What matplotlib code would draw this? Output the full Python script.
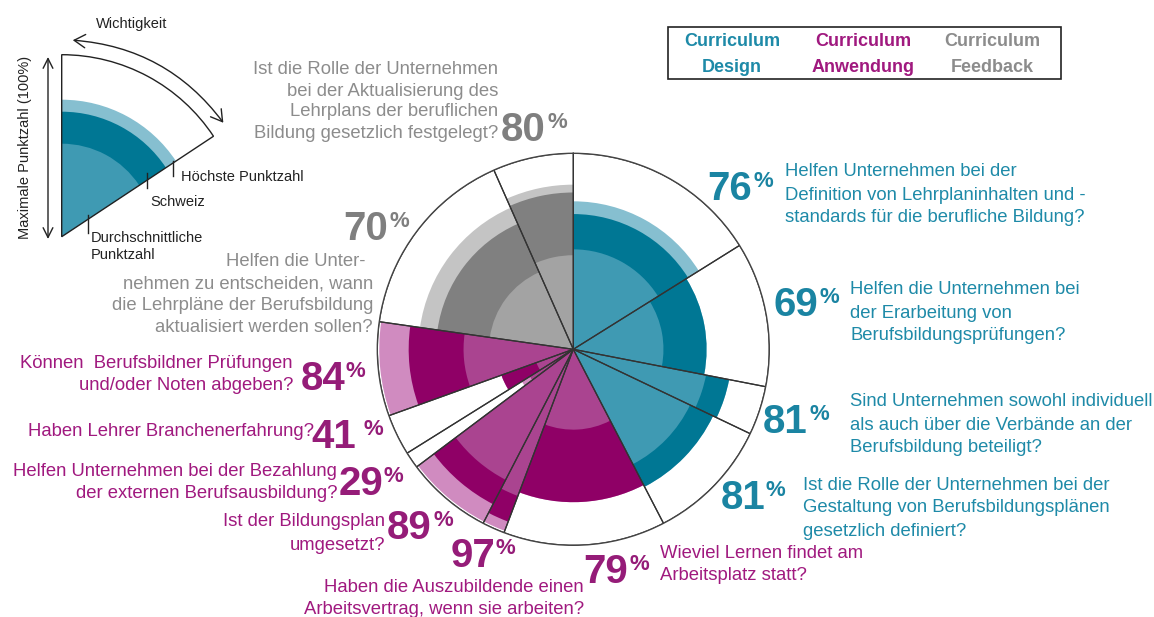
import matplotlib
matplotlib.use("Agg")
import matplotlib.pyplot as plt
import numpy as np
from matplotlib.patches import Wedge, Rectangle, FancyArrowPatch

plt.rcParams['font.family'] = ['Liberation Sans', 'DejaVu Sans']

# sector borders, degrees clockwise from 12 o'clock (sector width = Wichtigkeit)
edges = [0, 58, 101, 115.5, 152.6, 200.7, 207.4, 233.1, 238, 250.2, 278.1, 336.1, 360]
group = ["design"] * 4 + ["anwendung"] * 6 + ["feedback"] * 2
# scores as share of the maximum (radius)
avg_score = [0.51, 0.46, 0.69, 0.66, 0.41, 0.80, 0.75, 0.26, 0.20, 0.56, 0.43, 0.48]
swiss_score = [0.69, 0.68, 0.81, 0.79, 0.78, 0.94, 0.89, 0.26, 0.39, 0.84, 0.70, 0.80]
top_score = [0.755, 0.68, 0.81, 0.79, 0.78, 0.99, 0.99, 0.31, 0.39, 0.99, 0.79, 0.84]
pct = ["76", "69", "81", "81", "79", "97", "89", "29", "41", "84", "70", "80"]
questions = [
    "Helfen Unternehmen bei der\nDefinition von Lehrplaninhalten und -\nstandards für die berufliche Bildung?",
    "Helfen die Unternehmen bei\nder Erarbeitung von\nBerufsbildungsprüfungen?",
    "Sind Unternehmen sowohl individuell\nals auch über die Verbände an der\nBerufsbildung beteiligt?",
    "Ist die Rolle der Unternehmen bei der\nGestaltung von Berufsbildungsplänen\ngesetzlich definiert?",
    "Wieviel Lernen findet am\nArbeitsplatz statt?",
    "Haben die Auszubildende einen\nArbeitsvertrag, wenn sie arbeiten?",
    "Ist der Bildungsplan\numgesetzt?",
    "Helfen Unternehmen bei der Bezahlung\nder externen Berufsausbildung?",
    "Haben Lehrer Branchenerfahrung?",
    "Können  Berufsbildner Prüfungen\nund/oder Noten abgeben?",
    "Helfen die Unter-\nnehmen zu entscheiden, wann\ndie Lehrpläne der Berufsbildung\naktualisiert werden sollen?",
    "Ist die Rolle der Unternehmen\nbei der Aktualisierung des\nLehrplans der beruflichen\nBildung gesetzlich festgelegt?",
]
legend_names = ["Curriculum\nDesign", "Curriculum\nAnwendung", "Curriculum\nFeedback"]

palette = {
    "design": dict(avg="#3F9AB3", ch="#007794", top="#86BFD0", text="#1E8AA8", num="#1A84A2"),
    "anwendung": dict(avg="#AA4490", ch="#8F0066", top="#D08BC0", text="#A0197F", num="#951C78"),
    "feedback": dict(avg="#A3A3A3", ch="#808080", top="#C4C4C4", text="#8C8C8C", num="#7F7F7F"),
}

# layout in pixels: number (right x, baseline), question (x, first line y, step, ha)
num_pos = [(752, 200), (818, 316), (808, 433), (765, 509), (628, 583), (495, 567),
           (432, 539), (383, 495), (356, 448), (345, 390), (388, 240), (546, 141)]
pct_gap = [1, 1, 1, 1, 1, 1, 1, 1, 8, 1, 1, 1]
text_pos = [(785, 172, 23, "left"), (850, 290, 23, "left"), (850, 402, 23, "left"),
            (803, 485, 23, "left"), (660, 553, 23, "left"), (584, 588, 21, "right"),
            (385, 521, 25, "right"), (337, 472, 22, "right"), (314, 432, 22, "right"),
            (293, 363, 22, "right"), (373, 262, 22, "right"), (498, 70, 21, "right")]

W, H = 1154, 617
fig = plt.figure(figsize=(W / 100, H / 100), dpi=100)
bg = fig.add_axes([0, 0, 1, 1])
bg.set_xlim(0, W)
bg.set_ylim(H, 0)
bg.axis("off")

# main rose
cx, cy, R = 573.3, 349.3, 196
pax = fig.add_axes([(cx - R) / W, (H - cy - R) / H, 2 * R / W, 2 * R / H], projection="polar")
pax.set_theta_zero_location("N")
pax.set_theta_direction(-1)
pax.set_ylim(0, 1)
pax.set_xticks([])
pax.set_yticks([])
pax.grid(False)
pax.spines["polar"].set_color("#444444")
pax.spines["polar"].set_linewidth(1)

lo = np.radians(edges[:-1])
wd = np.radians(np.diff(edges))
for key, vals in [("top", top_score), ("ch", swiss_score), ("avg", avg_score)]:
    pax.bar(lo, vals, width=wd, bottom=0, align="edge",
            color=[palette[g][key] for g in group], linewidth=0)
pax.bar(lo, np.ones(len(lo)), width=wd, bottom=0, align="edge",
        fill=False, edgecolor="#333333", linewidth=0.9)

# labels
for i, q in enumerate(questions):
    c = palette[group[i]]
    x, y0, step, ha = text_pos[i]
    lines = q.split("\n")
    for k, ln in enumerate(lines):
        if i == 10 and k == 0:
            bg.text(366, y0, ln, ha="right", va="center", color=c["text"], fontsize=13.3)
            continue
        bg.text(x, y0 + k * step, ln, ha=ha, va="center", color=c["text"], fontsize=13.3)
    nx, ny = num_pos[i]
    bg.text(nx, ny, pct[i], ha="right", va="baseline", color=c["num"], fontsize=29,
            fontweight="bold")
    bg.text(nx + pct_gap[i], ny - 13, "%", ha="left", va="baseline", color=c["num"],
            fontsize=16, fontweight="bold")

# legend box
bg.add_patch(Rectangle((668, 27), 393, 52, fill=False, edgecolor="#222222", lw=1.2))
for name, g, lx in zip(legend_names, ["design", "anwendung", "feedback"], [732, 863, 992]):
    top, bottom = name.split("\n")
    bg.text(lx, 42, top, ha="center", va="center", fontsize=13, fontweight="bold",
            color=palette[g]["text"])
    bg.text(lx, 67, bottom, ha="center", va="center", fontsize=13, fontweight="bold",
            color=palette[g]["text"])

# explanation sketch (top left)
vx, vy = 61.7, 236.7
bg.add_patch(Wedge((vx, vy), 182, -90, -33.5, facecolor="white", edgecolor="none"))
for r, key in [(137, "top"), (125, "ch"), (93, "avg")]:
    bg.add_patch(Wedge((vx, vy), r, -90, -33.5, facecolor=palette["design"][key], edgecolor="none"))
bg.add_patch(Wedge((vx, vy), 182, -90, -33.5, fill=False, edgecolor="#222222", lw=1))

bg.annotate("", xy=(48, 57), xytext=(48, 239),
            arrowprops=dict(arrowstyle="<->,head_length=0.7,head_width=0.35", color="#222222",
                            lw=1, shrinkA=0, shrinkB=0))
bg.add_patch(FancyArrowPatch((70, 40), (225, 125), connectionstyle="arc3,rad=-0.234",
                             arrowstyle="<->,head_length=0.5,head_width=0.3", mutation_scale=16,
                             color="#222222", lw=1))
bg.text(131.7, 24, "Wichtigkeit", ha="center", va="center", fontsize=10.5, color="#222222")
bg.text(25, 147, "Maximale Punktzahl (100%)", ha="center", va="center", rotation=90,
        fontsize=10.5, color="#222222")
for tx, t0, t1 in [(173.3, 161, 176), (146.7, 173, 188), (88.3, 215, 233)]:
    bg.plot([tx, tx], [t0, t1], color="#222222", lw=1)
bg.text(181, 177, "Höchste Punktzahl", ha="left", va="center", fontsize=10.5, color="#222222")
bg.text(150, 202, "Schweiz", ha="left", va="center", fontsize=10.5, color="#222222")
bg.text(91, 238, "Durchschnittliche", ha="left", va="center", fontsize=10.5, color="#222222")
bg.text(91, 255, "Punktzahl", ha="left", va="center", fontsize=10.5, color="#222222")

fig.savefig("out.png", dpi=100)
